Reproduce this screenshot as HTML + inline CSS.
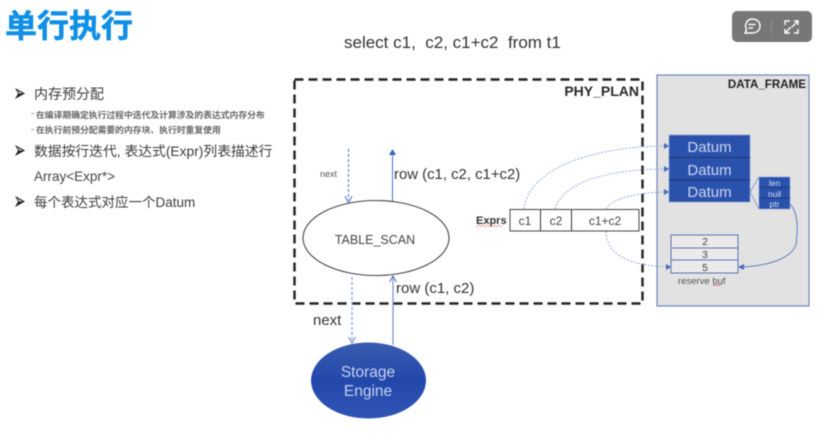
<!DOCTYPE html>
<html>
<head>
<meta charset="utf-8">
<style>
html,body{margin:0;padding:0;background:#fff}
#p{position:relative;width:834px;height:434px;overflow:hidden;background:#fff}
svg{position:absolute;left:0;top:0;filter:blur(0.4px)}
text{font-family:"Liberation Sans","Noto Sans CJK SC",sans-serif}
</style>
</head>
<body>
<div id="p">
<svg width="834" height="434" viewBox="0 0 834 434" xmlns="http://www.w3.org/2000/svg">
<defs>
<linearGradient id="g" x1="0" y1="0" x2="0" y2="1"><stop offset="0" stop-color="#3a5cb0"/><stop offset="0.5" stop-color="#2348ab"/><stop offset="1" stop-color="#2f55b5"/></linearGradient>
</defs>

<!-- title -->
<text x="5" y="37" font-size="32" font-weight="700" fill="#0f8fe6" stroke="#0f8fe6" stroke-width="0.500">单行执行</text>
<text x="344" y="48" font-size="17" fill="#333">select c1,&#160; c2, c1+c2&#160; from t1</text>

<!-- bullets -->
<g fill="#3c3c3c">
<path d="M15 88 L25 93.500 L15 99 L18 93.500 Z M17 90.500 L19.500 93.500 L22.500 93.500 Z" fill="#222" fill-rule="evenodd"/>
<text x="34" y="99" font-size="14">内存预分配</text>
<text x="36" y="118" font-size="8.800" font-weight="700" fill="#666" font-family="Noto Serif CJK SC">在编译期确定执行过程中迭代及计算涉及的表达式内存分布</text>
<text x="36" y="133" font-size="8.800" font-weight="700" fill="#666" font-family="Noto Serif CJK SC">在执行前预分配需要的内存块、执行时重复使用</text>
<rect x="31" y="113" width="3" height="1" fill="#aaa"/>
<rect x="31" y="129" width="3" height="1" fill="#aaa"/>
<path d="M15 145 L25 150.500 L15 156 L18 150.500 Z M17 147.500 L19.500 150.500 L22.500 150.500 Z" fill="#222" fill-rule="evenodd"/>
<text x="34" y="156" font-size="13.800">数据按行迭代, 表达式(Expr)列表描述行</text>
<text x="34" y="181" font-size="13.500" fill="#444">Array&lt;Expr*&gt;</text>
<path d="M15 196 L25 201.500 L15 207 L18 201.500 Z M17 198.500 L19.500 201.500 L22.500 201.500 Z" fill="#222" fill-rule="evenodd"/>
<text x="34" y="207" font-size="13.500">每个表达式对应一个Datum</text>
</g>

<!-- data frame -->
<rect x="657" y="75" width="152" height="231" fill="#e2e2e2" stroke="#6f86bd" stroke-width="1.200"/>
<text x="806" y="88" font-size="11.600" font-weight="700" fill="#222" text-anchor="end">DATA_FRAME</text>

<!-- phy plan -->
<rect x="294.500" y="79.500" width="348" height="224" fill="none" stroke="#222" stroke-width="2.400" stroke-dasharray="9 5"/>
<text x="639" y="96" font-size="14" font-weight="700" fill="#2a2a2a" text-anchor="end">PHY_PLAN</text>

<!-- curved dotted connectors -->
<g fill="none" stroke="#9db1da" stroke-width="1.100" stroke-dasharray="2 1.500">
<path d="M524 209 C528 170 590 146 668 146"/>
<path d="M555 209 C562 185 600 169 668 169"/>
<path d="M606 209 C612 198 640 192 668 192"/>
<path d="M606 231 C606 260 640 266 670 267"/>
</g>
<g fill="#3f68bd">
<path d="M669 146 L664 143 L664 149 Z"/>
<path d="M669 169 L664 166 L664 172 Z"/>
<path d="M669 192 L664 189 L664 195 Z"/>
<path d="M671 267 L666 264 L666 270 Z"/>
<path d="M738 267 L744 264 L744 270 Z"/>
</g>
<path d="M790 204 C800 215 797 235 796 245 C790 260 765 266 742 267" fill="none" stroke="#5f7fc4" stroke-width="1"/>

<!-- datum stack -->
<rect x="669" y="135" width="81" height="67" fill="#2a52ad" stroke="#8ea4d6" stroke-width="0.600"/>
<line x1="669" y1="157.500" x2="750" y2="157.500" stroke="#1b3570" stroke-width="1"/>
<line x1="669" y1="180" x2="750" y2="180" stroke="#1b3570" stroke-width="1"/>
<g font-size="15" fill="#cbd6ee" text-anchor="middle">
<text x="709.500" y="152">Datum</text>
<text x="709.500" y="175">Datum</text>
<text x="709.500" y="197">Datum</text>
</g>
<path d="M750 192 L759 177 M750 192 L759 209" stroke="#6f8ccb" stroke-width="0.800" fill="none"/>

<!-- len null ptr -->
<rect x="759" y="177" width="31" height="32" fill="#2a52ad" stroke="#8ea4d6" stroke-width="0.500"/>
<line x1="759" y1="187.500" x2="790" y2="187.500" stroke="#1b3570" stroke-width="0.800"/>
<line x1="759" y1="198" x2="790" y2="198" stroke="#1b3570" stroke-width="0.800"/>
<g font-size="8.500" fill="#d5ddf0" text-anchor="middle">
<text x="774.500" y="186">len</text>
<text x="774.500" y="197">null</text>
<text x="774.500" y="207">ptr</text>
</g>

<!-- reserve buf -->
<rect x="671" y="235" width="67" height="38" fill="#eaeaea" stroke="#5b75b0" stroke-width="1"/>
<line x1="671" y1="248" x2="738" y2="248" stroke="#5b75b0" stroke-width="1"/>
<line x1="671" y1="260" x2="738" y2="260" stroke="#5b75b0" stroke-width="1"/>
<g font-size="10" fill="#444" text-anchor="middle">
<text x="705" y="245">2</text>
<text x="705" y="258">3</text>
<text x="705" y="271">5</text>
</g>
<text x="678" y="284" font-size="9.500" fill="#555">reserve buf</text>
<path d="M713 285 q1 1 2 0 t2 0 t2 0 t2 0" stroke="#c44" stroke-width="0.600" fill="none"/>

<!-- exprs -->
<rect x="510" y="209.500" width="129" height="21.500" fill="#fff" stroke="#444" stroke-width="1"/>
<line x1="540.500" y1="209" x2="540.500" y2="231" stroke="#333" stroke-width="1"/>
<line x1="571.500" y1="209" x2="571.500" y2="231" stroke="#333" stroke-width="1"/>
<g font-size="12" fill="#444" text-anchor="middle">
<text x="525" y="225">c1</text>
<text x="556" y="225">c2</text>
<text x="605" y="225">c1+c2</text>
</g>
<text x="476" y="224" font-size="11" font-weight="700" fill="#333">Exprs</text>
<path d="M476 226 q1 1.500 2 0 t2 0 t2 0 t2 0 t2 0 t2 0 t2 0 t2 0 t2 0 t2 0 t2 0 t2 0 t2 0" stroke="#d66" stroke-width="0.600" fill="none"/>

<!-- table scan -->
<ellipse cx="376" cy="238" rx="73" ry="37.500" fill="#fff" stroke="#444" stroke-width="1.100"/>
<text x="375" y="244" font-size="12.500" fill="#444" text-anchor="middle">TABLE_SCAN</text>

<!-- arrows inside -->
<line x1="348.500" y1="149" x2="348.500" y2="200" stroke="#4a6fc0" stroke-width="1" stroke-dasharray="3 2"/>
<path d="M345 196 L348.500 203 L352 196" fill="none" stroke="#4a6fc0" stroke-width="1"/>
<text x="320" y="177" font-size="9" fill="#555">next</text>
<line x1="392.500" y1="152" x2="392.500" y2="201" stroke="#4a6fc0" stroke-width="1"/>
<path d="M392.500 149 L389 155 L396 155 Z" fill="#3a62b8"/>
<text x="394" y="179" font-size="14.900" fill="#333">row (c1, c2, c1+c2)</text>

<!-- lower arrows -->
<line x1="352" y1="277" x2="352" y2="342" stroke="#7f9bd6" stroke-width="1.200" stroke-dasharray="3 2"/>
<path d="M348.500 337 L352 343 L355.500 337" fill="none" stroke="#5a7fc9" stroke-width="1"/>
<line x1="393" y1="277" x2="393" y2="345" stroke="#7f97cf" stroke-width="1.300"/>
<path d="M389.500 282 L393 276 L396.500 282" fill="none" stroke="#4a6fc0" stroke-width="1"/>
<text x="396" y="293" font-size="15" fill="#333">row (c1, c2)</text>
<text x="313" y="325" font-size="15" fill="#333">next</text>

<!-- storage engine -->
<ellipse cx="368.500" cy="380.500" rx="57.500" ry="38" fill="url(#g)"/>
<g font-size="15.500" fill="#c5d1ec" text-anchor="middle">
<text x="368" y="377">Storage</text>
<text x="368" y="396">Engine</text>
</g>

<!-- top-right toolbar -->
<rect x="732" y="11" width="80" height="31" rx="5" fill="#777"/>
<g fill="none" stroke="#fff" stroke-width="1.400">
<path d="M745 33 L746.500 30 C744 25 747 19 752 19 C757 19 760 22 760 26 C760 31 756 33 752 33 Z"/>
<line x1="748.500" y1="24.500" x2="755.500" y2="24.500"/>
<line x1="748.500" y1="28" x2="753" y2="28"/>
<path d="M785 25 V21 H790 M794 21 H798 V25 M798 29 V33 H794 M790 33 H785 V29"/>
<path d="M792 27 L798 21 M785 33 L791 27"/>
</g>
<line x1="771.500" y1="19" x2="771.500" y2="34" stroke="#8c8c8c" stroke-width="1"/>
</svg>
</div>
</body>
</html>
